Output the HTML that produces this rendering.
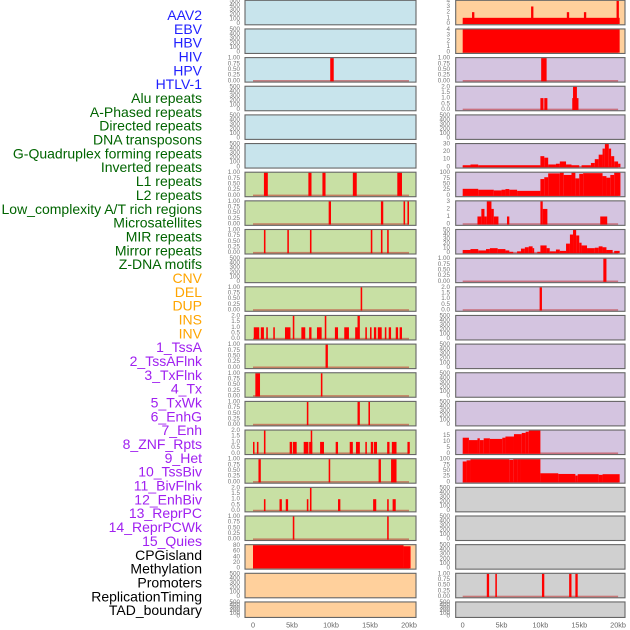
<!DOCTYPE html>
<html><head><meta charset="utf-8"><style>
html,body{margin:0;padding:0;background:#fff;}
svg{display:block;font-family:"Liberation Sans",sans-serif;}
</style></head><body>
<svg id="chart" width="630" height="630" viewBox="0 0 630 630" xmlns="http://www.w3.org/2000/svg"></svg>
<script>
const trackLabels = ["AAV2","EBV","HBV","HIV","HPV","HTLV-1","Alu repeats","A-Phased repeats","Directed repeats","DNA transposons","G-Quadruplex forming repeats","Inverted repeats","L1 repeats","L2 repeats","Low_complexity A/T rich regions","Microsatellites","MIR repeats","Mirror repeats","Z-DNA motifs","CNV","DEL","DUP","INS","INV","1_TssA","2_TssAFlnk","3_TxFlnk","4_Tx","5_TxWk","6_EnhG","7_Enh","8_ZNF_Rpts","9_Het","10_TssBiv","11_BivFlnk","12_EnhBiv","13_ReprPC","14_ReprPCWk","15_Quies","CPGisland","Methylation","Promoters","ReplicationTiming","TAD_boundary"];
const labelGroups = [6,13,5,15,5];
const groupColors = ["#1f1fff","#006400","#ffa500","#a020f0","#000000"];
const xTickValues = [0,5,10,15,20];
const xTickLabels = ["0","5kb","10kb","15kb","20kb"];

const ticksEmpty = ["500","400","300","200","100","0"];
const ticksEmptyVals = [500,400,300,200,100,0];
const ticks1 = [1,0.75,0.5,0.25,0];
const ticks2 = [2,1.5,1,0.5,0];
const ticks4 = [4,3,2,1,0];
const ticks3 = [3,2,1,0];
const ticks30 = [30,20,10,0];
const ticks100 = [100,75,50,25,0];
const ticks50 = [50,40,30,20,10,0];
const ticks15 = [15,10,5,0];
const ticks80 = [80,60,40,20,0];

const r0R = [[0,20.2,1],[1.2,1.5,2],[8.8,9.1,3],[13.4,13.7,2],[15.6,15.9,2],[19.8,20.1,4]];
const r1R = [[0,20.2,4]];
const r2L = [[9.9,10.35,1]];
const r2R = [[10.1,10.8,1]];
const r3R = [[10.0,10.4,1],[10.5,10.9,1],[14.1,14.9,1],[14.2,14.7,2]];
const r5R = [[0,1,2],[1,2,3],[2,10,2],[10,10.5,14],[10.5,11,12],[11,12,3],[12,12.5,4],[12.5,13.3,7],[13.3,14,3],[14,15,2],[15.3,16.5,2],[16.5,17,5],[17,17.5,10],[17.5,18,16],[18,18.3,24],[18.3,18.8,31],[18.8,19.1,24],[19.1,19.5,14],[19.5,20,7],[20,20.3,4]];
const r6L = [[1.4,1.9,1],[7.1,7.5,1],[8.9,9.3,1],[12.8,13.3,1],[18.5,19.1,1]];
const r6R = [[0,2,29],[2,4,25],[4,5,22],[5,5.5,25],[5.5,6,28],[6,7,25],[7,10,20],[10,10.5,72],[10.5,11,80],[11,12.5,97],[12.5,13,100],[13,14,90],[14,14.5,100],[14.5,15,75],[15,15.5,95],[15.5,18,98],[18,18.5,85],[18.5,19,78],[19,19.5,90],[19.5,20.3,100]];
const r7L = [[9.7,10.0,1],[16.4,16.7,1],[19.3,19.5,1],[19.8,20.0,1]];
const r7R = [[1.9,2.4,1],[2.4,2.8,2],[2.8,3.1,1],[3.1,3.7,3],[3.7,4.0,2],[4.0,4.6,1],[5.7,6.0,1],[10.0,10.3,3],[10.3,10.9,2],[17.7,18.6,1]];
const r8L = [[1.4,1.6,1],[4.4,4.6,1],[7.3,7.5,1],[15.1,15.3,1],[16.4,16.6,1],[17.2,17.4,1]];
const r8R = [[0,1,6],[1,2,8],[2,3,5],[3,3.5,8],[3.5,4.5,10],[4.5,5.5,8],[5.5,6,5],[6,6.5,2],[7,7.5,3],[7.5,8,9],[8,8.5,12],[8.5,9,14],[9,9.2,10],[9.6,10,2],[10,10.8,16],[10.8,11.2,10],[11.2,12,3],[12,12.5,7],[12.5,13.3,4],[13.3,13.8,20],[13.8,14.2,40],[14.2,14.6,50],[14.6,15,38],[15,15.3,22],[15.3,16,16],[16,17,10],[17,17.5,11],[17.5,18,14],[18,18.5,12],[18.5,19.3,6],[19.5,20.2,4]];
const r9R = [[18.1,18.5,1]];
const r10L = [[13.8,14.0,1]];
const r10R = [[9.9,10.2,2]];
const r11L = [[0.1,0.8,1],[1.0,1.4,1],[1.7,1.9,1],[2.6,2.8,1],[4.1,4.8,1],[5.1,5.3,2],[6.2,6.7,1],[7.2,7.5,1],[8.2,8.8,1],[9.2,9.4,2],[10.5,10.9,1],[11.7,12.3,1],[13.1,13.4,1],[13.4,13.7,2],[14.4,14.6,1],[15.0,15.2,1],[15.5,15.8,1],[16.0,16.5,1],[16.9,17.1,1],[17.4,17.7,1],[18.3,18.6,1],[18.8,19.1,1]];
const r12L = [[9.3,9.6,1]];
const r13L = [[0.3,0.9,1],[8.7,8.9,1]];
const r14L = [[6.9,7.1,1],[13.4,13.7,1],[14.8,15.0,1]];
const r15L = [[0,0.15,1],[0.5,0.7,1],[1.4,1.6,2],[4.7,5.0,1],[5.1,5.6,1],[6.5,7.1,1],[7.2,7.6,1],[7.4,7.5,2],[8.6,9.1,1],[10.6,10.9,1],[12.4,12.8,1],[13.2,13.7,1],[14.4,14.6,1],[15.1,15.4,1],[15.5,15.9,1],[17.2,17.5,1],[17.8,18.4,1],[19.8,20.1,1]];
const r15R = [[0,0.8,13],[0.8,1.9,11],[1.9,2.2,12.5],[2.2,2.7,11],[2.7,3.5,12.5],[3.5,5.1,12],[5.1,5.5,13],[5.5,6.6,14],[6.6,7.6,16],[7.6,8.1,17],[8.1,8.5,18],[8.5,10,19]];
const r16L = [[0.7,1.0,1],[9.7,9.9,1],[16.1,16.4,1],[17.7,18.4,1]];
const r16R = [[0,0.5,90],[0.5,1,95],[1,6,100],[6,6.5,97],[6.5,7,100],[7,7.5,102],[7.5,10,100],[10,12.3,38],[12.3,14.5,35],[14.5,14.8,28],[14.8,17.5,34],[17.5,18,31],[18,20.2,34]];
const r17L = [[1.4,1.6,1],[3.4,3.7,1],[4.2,4.5,1],[6.9,7.1,1],[7.3,7.5,2],[10.9,11.2,1],[15.4,15.8,1],[17.2,17.4,1],[17.9,18.3,1]];
const r18L = [[5.1,5.3,1],[17.2,17.4,1]];
const r19L = [[0,19.3,82],[19.3,20.2,78]];
const r20R = [[3.1,3.4,1],[4.2,4.4,1],[10.2,10.5,1],[13.7,14.0,1],[14.5,14.8,1]];

const BLUE="#c8e4ec",GREEN="#c8e0a4",PURPLE="#d4c4e0",PEACH="#ffd09c",GRAY="#d0d0d0";
const panels = [
 [0,0,BLUE,null,0,null],[0,1,PEACH,ticks4,4,r0R,0],
 [1,0,BLUE,null,0,null],[1,1,PEACH,ticks4,4,r1R,0],
 [2,0,BLUE,ticks1,1,r2L,2],[2,1,PURPLE,ticks1,1,r2R,2],
 [3,0,BLUE,null,0,null],[3,1,PURPLE,ticks2,2,r3R,1],
 [4,0,BLUE,null,0,null],[4,1,PURPLE,null,0,null],
 [5,0,BLUE,null,0,null],[5,1,PURPLE,ticks30,30,r5R,0],
 [6,0,GREEN,ticks1,1,r6L,2],[6,1,PURPLE,ticks100,100,r6R,0],
 [7,0,GREEN,ticks1,1,r7L,2],[7,1,PURPLE,ticks3,3,r7R,0],
 [8,0,GREEN,ticks1,1,r8L,2],[8,1,PURPLE,ticks50,50,r8R,0],
 [9,0,GREEN,null,0,null],[9,1,PURPLE,ticks1,1,r9R,2],
 [10,0,GREEN,ticks1,1,r10L,2],[10,1,PURPLE,ticks2,2,r10R,1],
 [11,0,GREEN,ticks2,2,r11L,1],[11,1,PURPLE,null,0,null],
 [12,0,GREEN,ticks1,1,r12L,2],[12,1,PURPLE,null,0,null],
 [13,0,GREEN,ticks1,1,r13L,2],[13,1,PURPLE,null,0,null],
 [14,0,GREEN,ticks1,1,r14L,2],[14,1,PURPLE,null,0,null],
 [15,0,GREEN,ticks2,2,r15L,1],[15,1,PURPLE,ticks15,19,r15R,0],
 [16,0,GREEN,ticks1,1,r16L,2],[16,1,PURPLE,ticks100,100,r16R,0],
 [17,0,GREEN,ticks2,2,r17L,1],[17,1,GRAY,null,0,null],
 [18,0,GREEN,ticks1,1,r18L,2],[18,1,GRAY,null,0,null],
 [19,0,PEACH,ticks80,82,r19L,0],[19,1,GRAY,null,0,null],
 [20,0,PEACH,null,0,null],[20,1,GRAY,ticks1,1,r20R,2],
 [21,0,PEACH,null,0,null],[21,1,GRAY,null,0,null]
];

const NS="http://www.w3.org/2000/svg";
const svg=document.getElementById("chart");
function mk(tag,attrs,parent){const e=document.createElementNS(NS,tag);for(const k in attrs)e.setAttribute(k,attrs[k]);(parent||svg).appendChild(e);return e;}

const cols=[{x0:245,x1:416,k0:253,ks:7.8,tx:240},{x0:455.7,x1:625,k0:462.7,ks:7.77,tx:450}];
function rowTop(r){return 0.3+r*28.65;}
function rowH(r){return r===21?15.5:24.5;}
function xScale(c,kb){return cols[c].k0+kb*cols[c].ks;}
function yScale(r,v,ymax){const t=rowTop(r),h=rowH(r);const y0=t+h-1.3,y1=t+0.5;return y0-(v/ymax)*(y0-y1);}

let idx=0;
labelGroups.forEach((n,g)=>{for(let i=0;i<n;i++){
  const t=mk("text",{x:202,y:15+idx*13.84,"text-anchor":"end","dominant-baseline":"central","font-size":"14",fill:groupColors[g]});
  
  
  t.textContent=trackLabels[idx];idx++;}});

panels.forEach(p=>{
  const [r,c,bg,ticks,ymax,bars,dec]=p;
  const col=cols[c],top=rowTop(r),h=rowH(r);
  const g=mk("g",{});
  
  
  const bgr=mk("rect",{x:col.x0,y:top,width:col.x1-col.x0,height:h,fill:bg},g);
  
  
  let tv,tl,ym;
  if(!ticks){tv=ticksEmptyVals;tl=ticksEmpty;ym=500;}
  else{tv=ticks;tl=ticks.map(v=>v.toFixed(dec));ym=ymax;}
  tv.forEach((v,i)=>{
    const t=mk("text",{x:col.tx,y:yScale(r,v,ym),"text-anchor":"end","dominant-baseline":"central","font-size":"6.3",fill:"#777"},g);
    
    
    t.textContent=tl[i];
  });
  if(bars){
    const bl=mk("rect",{x:xScale(c,0),y:yScale(r,0,ym)-0.8,width:xScale(c,20)-xScale(c,0),height:1.6,fill:"rgba(190,30,30,0.5)"},g);
    
    
    bars.forEach(b=>{
      const x=xScale(c,b[0]),w=Math.max(xScale(c,b[1])-x,1.5);
      const y=Math.max(yScale(r,b[2],ym),top+0.5);
      const rc=mk("rect",{x:x,y:y,width:w,height:yScale(r,0,ym)-y+0.5,fill:"#ff0000"},g);
      
      
    });
  }
  const br=mk("rect",{x:col.x0,y:top,width:col.x1-col.x0,height:h,fill:"none",stroke:"#666","stroke-width":"1.1"},g);
  
  
});

[0,1].forEach(c=>{xTickValues.forEach((v,i)=>{
  const t=mk("text",{x:xScale(c,v),y:625,"text-anchor":"middle","dominant-baseline":"central","font-size":"7.3",fill:"#666"});
  
  
  t.textContent=xTickLabels[i];
});});
</script>
</body></html>
